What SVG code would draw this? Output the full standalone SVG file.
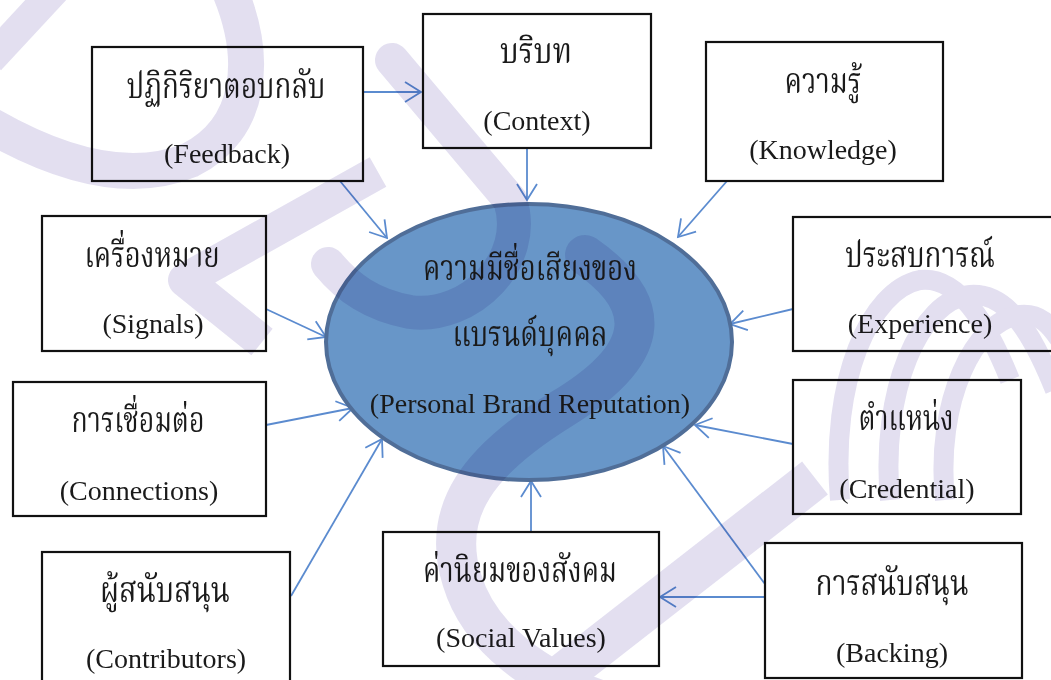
<svg xmlns="http://www.w3.org/2000/svg" width="1051" height="680" viewBox="0 0 1051 680">
<style>
.box{fill:#ffffff;stroke:#111111;stroke-width:2.2}
.th{font-family:"Kinnari","Norasi","Laksaman","Noto Serif Thai","Noto Sans Thai","Garuda","Loma","Liberation Serif",serif;font-size:35px;fill:#1a1a1a;text-anchor:middle}
.en{font-family:"Liberation Serif","Times New Roman",serif;font-size:28px;fill:#1a1a1a;text-anchor:middle}
.con{fill:none;stroke:#5b8bcf;stroke-width:1.8}
.wm{fill:none;stroke:#dedaee}
</style>
<defs>
<marker id="arr" markerUnits="userSpaceOnUse" markerWidth="24" markerHeight="24" viewBox="-20 -12 24 24" refX="0" refY="0" orient="auto">
<path d="M-16,-10 L0,0 L-16,10" fill="none" stroke="#5b8bcf" stroke-width="1.8"/>
</marker>
</defs>
<rect x="0" y="0" width="1051" height="680" fill="#ffffff"/>

<g id="connectors">
<line class="con" x1="363" y1="92" x2="421" y2="92" marker-end="url(#arr)"/>
<line class="con" x1="527" y1="148" x2="527" y2="200" marker-end="url(#arr)"/>
<line class="con" x1="340" y1="181" x2="387" y2="238" marker-end="url(#arr)"/>
<line class="con" x1="727" y1="181" x2="678" y2="237" marker-end="url(#arr)"/>
<line class="con" x1="266" y1="309" x2="326" y2="337" marker-end="url(#arr)"/>
<line class="con" x1="266" y1="425" x2="353" y2="408" marker-end="url(#arr)"/>
<line class="con" x1="291" y1="596" x2="382" y2="439" marker-end="url(#arr)"/>
<line class="con" x1="531" y1="532" x2="531" y2="481" marker-end="url(#arr)"/>
<line class="con" x1="793" y1="309" x2="730" y2="324" marker-end="url(#arr)"/>
<line class="con" x1="793" y1="444" x2="695" y2="425" marker-end="url(#arr)"/>
<line class="con" x1="765" y1="584" x2="663" y2="446" marker-end="url(#arr)"/>
<line class="con" x1="765" y1="597" x2="660" y2="597" marker-end="url(#arr)"/>
</g>

<g id="center">
<ellipse cx="529" cy="342" rx="203" ry="138" fill="#6896c8" stroke="#506e98" stroke-width="4"/>
<text class="th" x="530" y="280" textLength="214" lengthAdjust="spacingAndGlyphs">ความมีชื่อเสียงของ</text>
<text class="th" x="530" y="346" textLength="155" lengthAdjust="spacingAndGlyphs">แบรนด์บุคคล</text>
<text class="en" x="530" y="413">(Personal Brand Reputation)</text>
</g>

<g id="feedback">
<rect class="box" x="92" y="47" width="271" height="134"/>
<text class="th" x="226" y="98" textLength="199" lengthAdjust="spacingAndGlyphs">ปฏิกิริยาตอบกลับ</text>
<text class="en" x="227" y="163">(Feedback)</text>
</g>
<g id="context">
<rect class="box" x="423" y="14" width="228" height="134"/>
<text class="th" x="536" y="63" textLength="72" lengthAdjust="spacingAndGlyphs">บริบท</text>
<text class="en" x="537" y="130">(Context)</text>
</g>
<g id="knowledge">
<rect class="box" x="706" y="42" width="237" height="139"/>
<text class="th" x="823" y="93" textLength="77" lengthAdjust="spacingAndGlyphs">ความรู้</text>
<text class="en" x="823" y="159">(Knowledge)</text>
</g>
<g id="signals">
<rect class="box" x="42" y="216" width="224" height="135"/>
<text class="th" x="152" y="267" textLength="135" lengthAdjust="spacingAndGlyphs">เครื่องหมาย</text>
<text class="en" x="153" y="333">(Signals)</text>
</g>
<g id="connections">
<rect class="box" x="13" y="382" width="253" height="134"/>
<text class="th" x="138" y="432" textLength="133" lengthAdjust="spacingAndGlyphs">การเชื่อมต่อ</text>
<text class="en" x="139" y="500">(Connections)</text>
</g>
<g id="contributors">
<rect class="box" x="42" y="552" width="248" height="140"/>
<text class="th" x="165" y="602" textLength="130" lengthAdjust="spacingAndGlyphs">ผู้สนับสนุน</text>
<text class="en" x="166" y="668">(Contributors)</text>
</g>
<g id="socialvalues">
<rect class="box" x="383" y="532" width="276" height="134"/>
<text class="th" x="520" y="582" textLength="194" lengthAdjust="spacingAndGlyphs">ค่านิยมของสังคม</text>
<text class="en" x="521" y="647">(Social Values)</text>
</g>
<g id="experience">
<rect class="box" x="793" y="217" width="262" height="134"/>
<text class="th" x="920" y="267" textLength="150" lengthAdjust="spacingAndGlyphs">ประสบการณ์</text>
<text class="en" x="920" y="333">(Experience)</text>
</g>
<g id="credential">
<rect class="box" x="793" y="380" width="228" height="134"/>
<text class="th" x="906" y="430" textLength="95" lengthAdjust="spacingAndGlyphs">ตำแหน่ง</text>
<text class="en" x="907" y="498">(Credential)</text>
</g>
<g id="backing">
<rect class="box" x="765" y="543" width="257" height="135"/>
<text class="th" x="892" y="595" textLength="153" lengthAdjust="spacingAndGlyphs">การสนับสนุน</text>
<text class="en" x="892" y="662">(Backing)</text>
</g>

<g id="watermark" style="mix-blend-mode:multiply" opacity="0.85">
<path class="wm" stroke-width="30" d="M-10,60 L55,-10"/>
<path class="wm" stroke-width="36" stroke-linecap="round" d="M225,-20 C262,60 250,130 190,160 C130,185 60,165 -10,125"/>
<path class="wm" stroke-width="34" stroke-linecap="round" d="M392,60 L510,200 C530,260 470,320 410,312 C372,305 348,288 328,264"/>
<path class="wm" stroke-width="34" stroke-linejoin="round" d="M378,172 L185,280 L262,342"/>
<path class="wm" stroke-width="40" stroke-linecap="round" d="M585,255 C650,300 660,350 560,410 C480,460 440,510 462,580 C480,640 540,680 600,700"/>
<path class="wm" stroke-width="42" d="M530,700 L815,478"/>
<path class="wm" stroke-width="20" d="M840,500 C830,380 870,290 920,280 C960,275 990,330 1010,380"/>
<path class="wm" stroke-width="20" d="M890,500 C880,390 920,300 970,295 C1010,292 1035,340 1055,390"/>
<path class="wm" stroke-width="20" d="M945,500 C935,400 975,320 1020,315 C1040,313 1050,325 1060,340"/>
</g>
</svg>
